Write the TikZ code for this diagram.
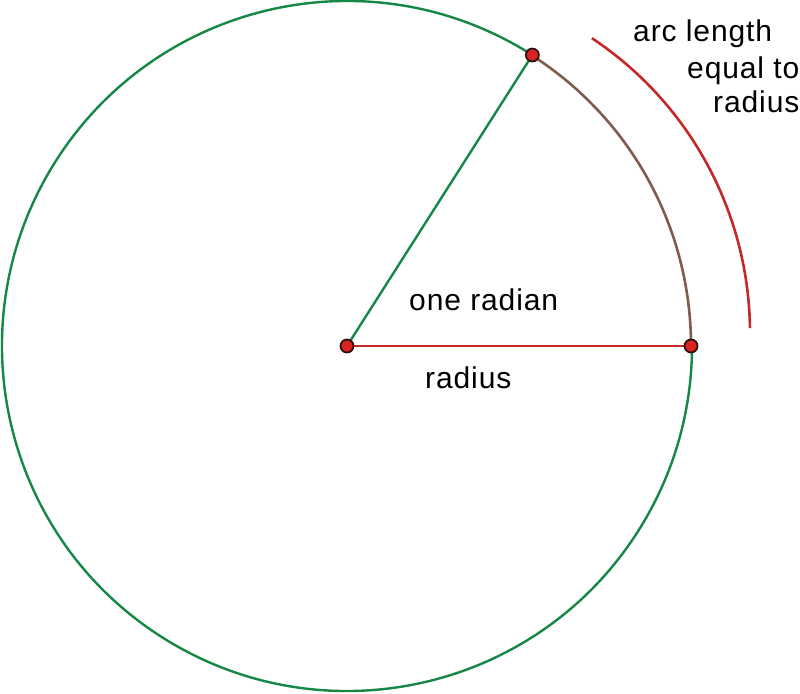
\documentclass[tikz,border=0pt]{standalone}
\usepackage{fontspec}
\setmainfont{Liberation Sans}[LetterSpace=3]
\usetikzlibrary{calc}
\begin{document}
\begin{tikzpicture}[x=1pt,y=-1pt,
  greenline/.style={draw=circgreen,line width=2.4pt},
  redline/.style={draw=linered,line width=2.6pt},
  brownline/.style={draw=arcbrown,line width=2.6pt},
  dotpt/.style={circle,fill=dotred,draw=dotrim,line width=1.8pt,inner sep=0pt,minimum size=13pt},
  lbl/.style={inner sep=0pt,font=\fontsize{30}{36}\selectfont,text=black}]
\definecolor{circgreen}{RGB}{22,135,70}
\definecolor{linered}{RGB}{196,40,40}
\definecolor{arcbrown}{RGB}{128,92,78}
\definecolor{dotred}{RGB}{220,35,35}
\definecolor{dotrim}{RGB}{50,15,15}
\useasboundingbox[fill=white] (0,0) rectangle (800,693);
\coordinate (O) at (347,346);
\coordinate (P) at (691,346);
\coordinate (Q) at ($(O)+(57.5:345pt)$);
\coordinate (C2) at (396,333);
% circle (green part) and brown arc of one radian
\draw[greenline] (Q) arc[start angle=57.5,end angle=360,radius=345pt];
\draw[brownline] (P) arc[start angle=0,end angle=57.5,radius=345pt];
% radii
\draw[greenline] (O) -- (Q);
\draw[redline] (O) -- (P);
% outer red arc
\coordinate (S) at ($(C2)+(0.8:354pt)$);
\draw[redline] (S) arc[start angle=0.8,end angle=56.4,radius=354pt];
% points
\node[dotpt] (o) at (O) {};
\node[dotpt] (p) at (P) {};
\node[dotpt] (q) at (Q) {};
% labels
\node[lbl,anchor=base west] (t1) at (633,42) {arc length};
\node[lbl,anchor=base west] (t2) at (687,78) {equal to};
\node[lbl,anchor=base west] (t3) at (713,112) {radius};
\node[lbl,anchor=base west] (t4) at (409,310) {one radian};
\node[lbl,anchor=base west] (t5) at (425,388) {radius};
\end{tikzpicture}
\end{document}
